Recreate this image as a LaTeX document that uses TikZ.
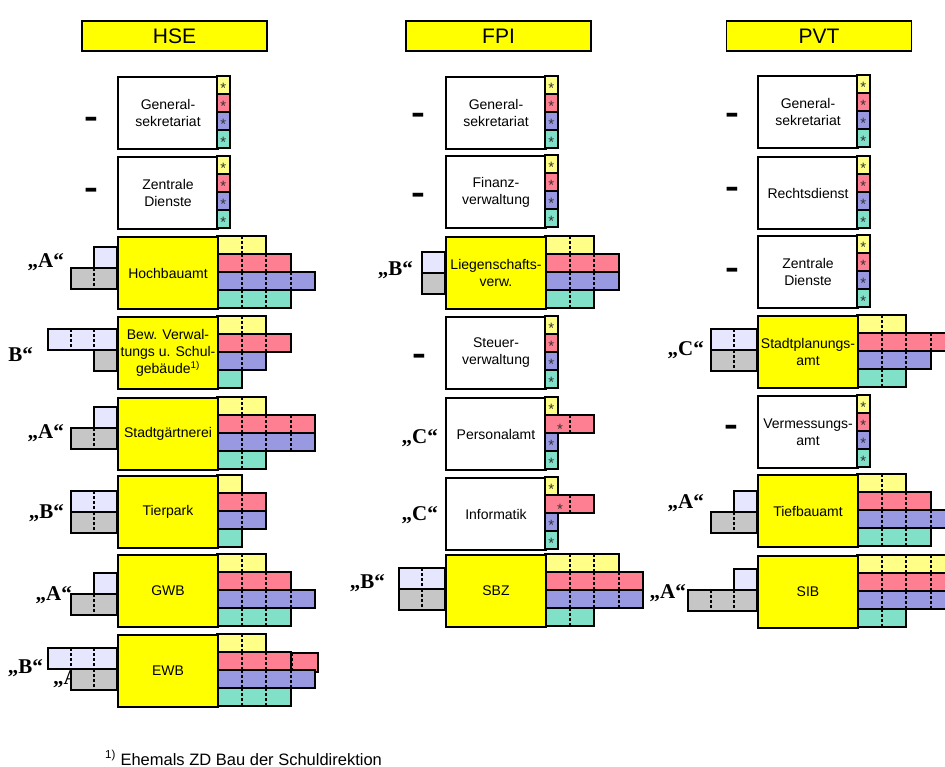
\documentclass[tikz,border=0pt]{standalone}
\usepackage{fontspec}
\usepackage{graphicx}
\setmainfont{Liberation Sans}
\newfontfamily\lblfont{Liberation Serif}
\definecolor{cY}{HTML}{FFFF88}
\definecolor{cP}{HTML}{FF7F92}
\definecolor{cB}{HTML}{9999E2}
\definecolor{cG}{HTML}{80E0C8}
\definecolor{cL}{HTML}{E6E6FF}
\definecolor{cK}{HTML}{C6C6C6}
\definecolor{cMain}{HTML}{FFFF00}
\tikzset{
  bar/.style={draw=black, line width=2pt},
  dotl/.style={black, line width=2pt, dash pattern=on 3pt off 2pt},
  orgbox/.style={draw=black, line width=2pt, minimum width=100pt, minimum height=72pt,
     inner sep=0pt, anchor=north west, font=\fontsize{14}{17}\selectfont, align=center},
  ybox/.style={orgbox, fill=cMain},
  wbox/.style={orgbox, fill=white},
  titlebox/.style={draw=black, line width=1.8pt, fill=cMain, minimum width=185pt,
     minimum height=30pt, inner sep=0pt, font=\fontsize{21}{22}\selectfont},
  starn/.style={anchor=base, inner sep=0pt, text=black!80, font=\fontsize{15}{15}\selectfont},
  lbl/.style={inner sep=0pt, font=\fontsize{21}{22}\selectfont\lblfont\bfseries},
  dashn/.style={inner sep=0pt, anchor=base, font=\fontsize{32}{32}\selectfont\bfseries},
}
% right bar segment: x, ytop, units, colour
\newcommand\RSeg[4]{%
  \filldraw[bar, fill=#4] (#1,#2) rectangle ({#1+#3*24.5},{#2+18});
  \pgfmathtruncatemacro\nminus{#3-1}%
  \ifnum\nminus>0
    \foreach \k in {1,...,\nminus}{\draw[dotl] ({#1+\k*24.5},#2) -- ({#1+\k*24.5},{#2+18});}
  \fi
}
% right bars: x right, top, Y, P, B, G
\newcommand\RBars[6]{%
  \RSeg{#1}{#2}{#3}{cY}
  \RSeg{#1}{#2+18}{#4}{cP}
  \RSeg{#1}{#2+36}{#5}{cB}
  \RSeg{#1}{#2+54}{#6}{cG}
}
% left bar segment: x left of box, ytop, units, colour
\newcommand\LSeg[4]{%
  \filldraw[bar, fill=#4] ({#1-#3*23},#2) rectangle (#1,{#2+21});
  \pgfmathtruncatemacro\nminus{#3-1}%
  \ifnum\nminus>0
    \foreach \k in {1,...,\nminus}{\draw[dotl] ({#1-\k*23},#2) -- ({#1-\k*23},{#2+21});}
  \fi
}
% left bars: x left, top, offset, lavender units, grey units
\newcommand\LBars[5]{%
  \LSeg{#1}{#2+#3}{#4}{cL}
  \LSeg{#1}{#2+#3+21}{#5}{cK}
}
% star column: x right, top, prefix
\newcommand\StarCol[3]{%
  \foreach \c [count=\i from 0] in {cY,cP,cB,cG}{%
    \filldraw[bar, fill=\c] (#1,{#2+\i*18}) rectangle ({#1+12.5},{#2+\i*18+18});
    \node[starn] (#3\i) at ({#1+6.25},{#2+\i*18+9+8.4}) {*};
  }%
}
% star column with a two-unit pink bar
\newcommand\StarColP[3]{%
  \foreach \c/\i in {cY/0,cB/2,cG/3}{%
    \filldraw[bar, fill=\c] (#1,{#2+\i*18}) rectangle ({#1+12.5},{#2+\i*18+18});
    \node[starn] (#3\i) at ({#1+6.25},{#2+\i*18+9+8.4}) {*};
  }%
  \filldraw[bar, fill=cP] (#1,{#2+18}) rectangle ({#1+49},{#2+36});
  \draw[dotl] ({#1+24.5},{#2+18}) -- ({#1+24.5},{#2+36});
  \node[starn] (#3p) at ({#1+15},{#2+29+8.4}) {*};
}
\newcommand\dashglyph{\scalebox{1.3}[1]{-}}
\begin{document}
\begin{tikzpicture}[x=1pt,y=-1pt]
\useasboundingbox (0,0) rectangle (945,767);
\clip (0,0) rectangle (945,767);

% titles
\node[titlebox] (tHSE) at (174.5,36) {HSE};
\node[titlebox] (tFPI) at (498.5,36) {FPI};
\node[titlebox] (tPVT) at (819,36) {PVT};

%================ HSE ================
\node[wbox] (h1) at (117,76) {General-\\sekretariat};
\StarCol{217}{76}{hs1}
\node[dashn] (hd1) at (91,128) {\dashglyph};

\node[wbox] (h2) at (117,156) {Zentrale\\Dienste};
\StarCol{217}{156}{hs2}
\node[dashn] (hd2) at (91,199) {\dashglyph};

\LBars{117}{236}{11}{1}{2}
\RBars{217}{236}{2}{3}{4}{3}
\node[ybox] (h3) at (117,236) {Hochbauamt};
\node[lbl, anchor=east] (hl3) at (64,262) {„A“};

\LBars{117}{316}{13}{3}{1}
\RBars{217}{316}{2}{3}{2}{1}
\node[ybox] (h4) at (117,316) {Bew. Verwal-\\tungs u. Schul-\\gebäude\textsuperscript{1)}};
\node[lbl, anchor=east] (hl4) at (33,355) {B“};

\LBars{117}{397}{10}{1}{2}
\RBars{217}{397}{2}{4}{4}{2}
\node[ybox] (h5) at (117,397) {Stadtgärtnerei};
\node[lbl, anchor=east] (hl5) at (64,433) {„A“};

\LBars{117}{475}{16}{2}{2}
\RBars{217}{475}{1}{2}{2}{1}
\node[ybox] (h6) at (117,475) {Tierpark};
\node[lbl, anchor=east] (hl6) at (64,513) {„B“};

\LBars{117}{554}{19}{1}{2}
\RBars{217}{554}{2}{3}{4}{3}
\node[ybox] (h7) at (117,554) {GWB};
\node[lbl, anchor=east] (hl7) at (72,595) {„A“};

\node[lbl, anchor=west] (hl8b) at (53,679) {„A“};
\LBars{117}{634}{14}{3}{2}
\filldraw[bar, fill=cP] (288,653) rectangle (318,672);
\draw[dotl] (291.5,653) -- (291.5,672);
\RBars{217}{634}{2}{3}{4}{3}
\node[ybox] (h8) at (117,634) {EWB};
\node[lbl, anchor=east] (hl8) at (43,668) {„B“};

%================ FPI ================
\node[wbox] (f1) at (445,76) {General-\\sekretariat};
\StarCol{545}{76}{fs1}
\node[dashn] (fd1) at (418,124) {\dashglyph};

\node[wbox] (f2) at (445,155) {Finanz-\\verwaltung};
\StarCol{545}{155}{fs2}
\node[dashn] (fd2) at (418,204) {\dashglyph};

\LBars{445}{236}{16}{1}{1}
\RBars{545}{236}{2}{3}{3}{2}
\node[ybox] (f3) at (445,236) {Liegenschafts-\\verw.};
\node[lbl, anchor=east] (fl3) at (413,270) {„B“};

\node[wbox] (f4) at (445,316) {Steuer-\\verwaltung};
\StarCol{545}{316}{fs4}
\node[dashn] (fd4) at (419,364) {\dashglyph};

\node[wbox] (f5) at (445,397) {Personalamt};
\StarColP{545}{397}{fs5}
\node[lbl, anchor=east] (fl5) at (438,438) {„C“};

\node[wbox] (f6) at (445,477) {Informatik};
\StarColP{545}{477}{fs6}
\node[lbl, anchor=east] (fl6) at (438,515) {„C“};

\LBars{445}{554}{14}{2}{2}
\RBars{545}{554}{3}{4}{4}{2}
\node[ybox] (f7) at (445,554) {SBZ};
\node[lbl, anchor=east] (fl7) at (385,583) {„B“};

%================ PVT ================
\node[wbox] (p1) at (757,75) {General-\\sekretariat};
\StarCol{857}{75}{ps1}
\node[dashn] (pd1) at (732,124) {\dashglyph};

\node[wbox] (p2) at (757,156) {Rechtsdienst};
\StarCol{857}{156}{ps2}
\node[dashn] (pd2) at (732,198) {\dashglyph};

\node[wbox] (p3) at (757,235) {Zentrale\\Dienste};
\StarCol{857}{235}{ps3}
\node[dashn] (pd3) at (732,279) {\dashglyph};

\LBars{757}{315}{14}{2}{2}
\RBars{857}{315}{2}{4}{3}{2}
\node[ybox] (p4) at (757,315) {Stadtplanungs-\\amt};
\node[lbl, anchor=east] (pl4) at (704,350) {„C“};

\node[wbox] (p5) at (757,395) {Vermessungs-\\amt};
\StarCol{857}{395}{ps5}
\node[dashn] (pd5) at (731,435) {\dashglyph};

\LBars{757}{474}{17}{1}{2}
\RBars{857}{474}{2}{3}{4}{3}
\node[ybox] (p6) at (757,474) {Tiefbauamt};
\node[lbl, anchor=east] (pl6) at (704,503) {„A“};

\LBars{757}{555}{14}{1}{3}
\RBars{857}{555}{4}{4}{4}{2}
\node[ybox] (p7) at (757,555) {SIB};
\node[lbl, anchor=east] (pl7) at (686,593) {„A“};

% footnote
\node[anchor=base west, inner sep=0pt, font=\fontsize{16.5}{18}\selectfont] (fn) at (105,765)
  {\textsuperscript{1)} Ehemals ZD Bau der Schuldirektion};
\end{tikzpicture}
\end{document}
